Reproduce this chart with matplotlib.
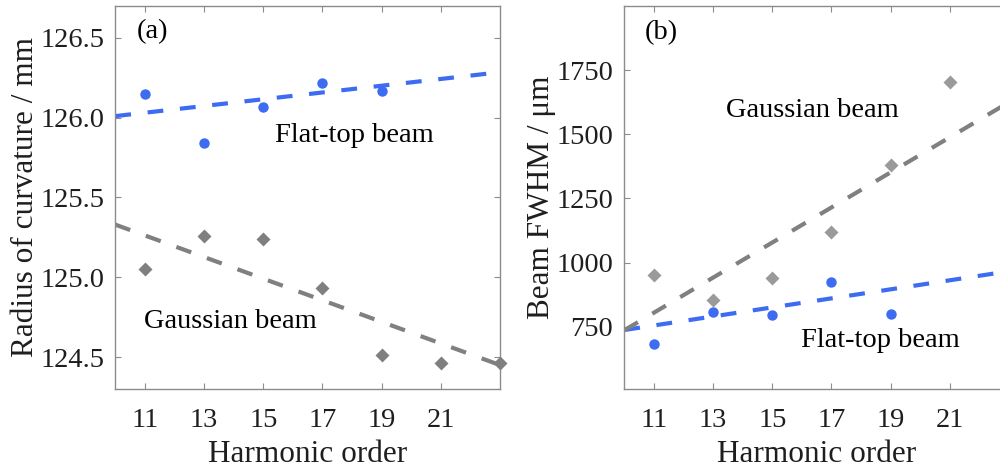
import matplotlib
matplotlib.use("Agg")
import matplotlib.pyplot as plt
import numpy as np

plt.rcParams['font.family'] = ['Liberation Serif', 'DejaVu Serif']
plt.rcParams['mathtext.fontset'] = 'stix'

# Harmonic orders
orders_flat_a = [11, 13, 15, 17, 19]
orders_gauss_a = [11, 13, 15, 17, 19, 21, 23]
orders_flat_b = [11, 13, 15, 17, 19]
orders_gauss_b = [11, 13, 15, 17, 19, 21]

# (a) radius of curvature / mm
roc_flat = [126.15, 125.84, 126.07, 126.22, 126.17]
roc_gauss = [125.05, 125.26, 125.24, 124.93, 124.51, 124.46, 124.46]
# linear trends (value at order 10, value at order 23)
roc_flat_fit = [126.01, 126.285]
roc_gauss_fit = [125.33, 124.45]

# (b) beam FWHM / um
fwhm_flat = [681, 808, 796, 925, 801]
fwhm_gauss = [953, 853, 938, 1119, 1380, 1704]
fwhm_flat_fit = [737, 966]
fwhm_gauss_fit = [736, 1625]

fit_x = [10, 23]

blue = '#3d6cf3'
gray_a = '#7f7f7f'
gray_b = '#9a9a9a'
line_gray = '#808080'
spine_col = '#8c8c8c'
text_col = '#1e1e1e'

fig = plt.figure(figsize=(10, 4.68), dpi=100)
ax_a = fig.add_axes([0.1153, 0.1688, 0.3847, 0.8184])
ax_b = fig.add_axes([0.6243, 0.1688, 0.3847, 0.8184])

dash = (3.8, 4.0)

def style(ax):
    for s in ax.spines.values():
        s.set_color(spine_col)
        s.set_linewidth(1.0)
    ax.tick_params(direction='in', top=True, right=True, length=4, width=0.8,
                   color=spine_col, labelsize=20.5, labelcolor=text_col)
    ax.tick_params(axis='x', pad=14)
    ax.tick_params(axis='y', pad=8)
    ax.set_xticks([11, 13, 15, 17, 19, 21])
    ax.set_xlim(10, 23)
    ax.set_xlabel('Harmonic order', fontsize=22.5, color=text_col, labelpad=5)

# Panel (a)
ax = ax_a
ax.plot(fit_x, roc_flat_fit, color=blue, lw=3, dashes=dash, zorder=2)
ax.plot(fit_x, roc_gauss_fit, color=line_gray, lw=3, dashes=dash, zorder=2)
ax.plot(orders_flat_a, roc_flat, 'o', color=blue, ms=7.5, mec='none', zorder=3, clip_on=False)
ax.plot(orders_gauss_a, roc_gauss, 'D', color=gray_a, ms=6.8, mec='none', zorder=3, clip_on=False)
style(ax)
ax.set_ylim(124.3, 126.7)
ax.set_yticks([124.5, 125.0, 125.5, 126.0, 126.5])
ax.set_yticklabels(['124.5', '125.0', '125.5', '126.0', '126.5'])
ax.set_ylabel('Radius of curvature / mm', fontsize=22.5, color=text_col, labelpad=0)
ax.text(10.72, 126.54, '(a)', fontsize=20.5, ha='left', va='center', color='black')
ax.text(15.4, 125.89, 'Flat-top beam', fontsize=20.5, ha='left', va='center', color='black')
ax.text(10.96, 124.72, 'Gaussian beam', fontsize=20.5, ha='left', va='center', color='black')

# Panel (b)
ax = ax_b
ax.plot(fit_x, fwhm_flat_fit, color=blue, lw=3, dashes=dash, zorder=2)
ax.plot(fit_x, fwhm_gauss_fit, color=line_gray, lw=3, dashes=dash, zorder=2)
ax.plot(orders_flat_b, fwhm_flat, 'o', color=blue, ms=7.5, mec='none', zorder=3)
ax.plot(orders_gauss_b, fwhm_gauss, 'D', color=gray_b, ms=6.8, mec='none', zorder=3)
style(ax)
ax.set_ylim(507, 2000)
ax.set_yticks([750, 1000, 1250, 1500, 1750])
ax.set_ylabel('Beam FWHM / μm', fontsize=22.5, color=text_col, labelpad=0)
ax.text(10.7, 1898, '(b)', fontsize=20.5, ha='left', va='center', color='black')
ax.text(13.42, 1594, 'Gaussian beam', fontsize=20.5, ha='left', va='center', color='black')
ax.text(15.98, 698, 'Flat-top beam', fontsize=20.5, ha='left', va='center', color='black')

fig.savefig('out.png', dpi=100, facecolor='white')
